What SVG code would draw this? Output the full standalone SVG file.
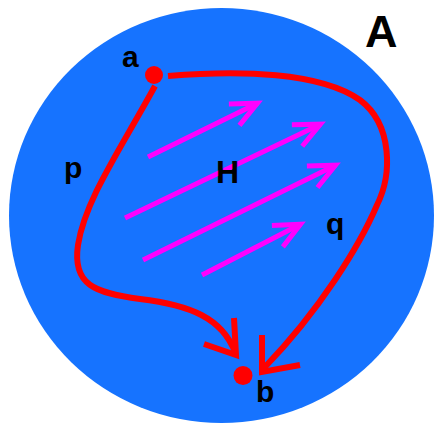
<svg xmlns="http://www.w3.org/2000/svg" width="436" height="426" viewBox="0 0 436 426">
  <style>
    .lbl { font-family: "Liberation Sans", Arial, sans-serif; font-weight: bold; fill: #000; }
    .red { fill: none; stroke: #ff0000; stroke-width: 6; stroke-linejoin: miter; }
    .field { fill: none; stroke: #ff00ff; stroke-width: 5; }
    .dot { fill: #ff0000; }
  </style>
  <defs>
    <marker id="mhead" markerUnits="userSpaceOnUse" viewBox="-35 -20 40 40" refX="0" refY="0" markerWidth="40" markerHeight="40" orient="auto" overflow="visible">
      <path d="M-26,-12 L0,0 L-26,12" fill="none" stroke="#ff00ff" stroke-width="5" stroke-linejoin="miter"/>
    </marker>
  </defs>
  <rect width="436" height="426" fill="#ffffff"/>
  <g id="regionA">
    <ellipse cx="221.5" cy="215.5" rx="212.5" ry="207.5" fill="#1673ff"/>
    <text class="lbl" x="365" y="47" font-size="45">A</text>
  </g>
  <g id="fieldH">
    <path class="field" d="M148,157 L257.5,103.2" marker-end="url(#mhead)"/>
    <path class="field" d="M125,218 L320.5,124.2" marker-end="url(#mhead)"/>
    <path class="field" d="M143,260 L335.5,165.2" marker-end="url(#mhead)"/>
    <path class="field" d="M202,275 L300.5,224.3" marker-end="url(#mhead)"/>
    <text class="lbl" x="216" y="183" font-size="32">H</text>
  </g>
  <g id="connectors">
    <g id="path-p">
      <path class="red" d="M155,86 C120,150 85,200 78,245 C72,285 95,293 140,299 C190,305 222,318 235,352"/>
      <path class="red" d="M234,318 L236,355 L204,344"/>
      <text class="lbl" x="64" y="178" font-size="30">p</text>
    </g>
    <g id="path-q">
      <path class="red" d="M168,76 C240,70 320,72 360,100 C393,125 392,175 377,205 C360,245 320,310 264,368"/>
      <path class="red" d="M262,335 L262,372 L300,365"/>
      <text class="lbl" x="326" y="234" font-size="30">q</text>
    </g>
  </g>
  <g id="point-a">
    <circle class="dot" cx="154" cy="75" r="9"/>
    <text class="lbl" x="122" y="67" font-size="30">a</text>
  </g>
  <g id="point-b">
    <circle class="dot" cx="243" cy="375.5" r="9.5"/>
    <text class="lbl" x="256" y="402" font-size="30">b</text>
  </g>
</svg>
